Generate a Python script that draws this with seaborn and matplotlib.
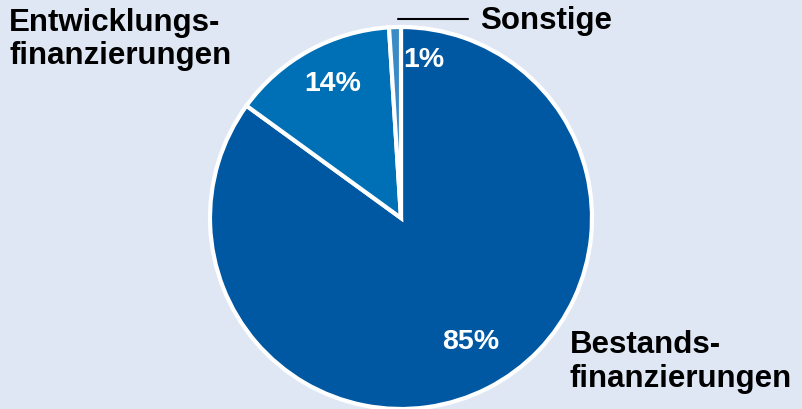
import matplotlib
matplotlib.use("Agg")
import matplotlib.pyplot as plt
import seaborn as sns

labels = [["Bestands-", "finanzierungen"], ["Entwicklungs-", "finanzierungen"], ["Sonstige"]]
shares = [85, 14, 1]
pct_text = ["85%", "14%", "1%"]
colors = ["#0057a2", "#0070b6", "#3a8ac6"]

BG = "#dfe7f5"

sns.set_style("white")
plt.rcParams["font.family"] = ["Liberation Sans", "DejaVu Sans"]

W, H = 802, 409
fig = plt.figure(figsize=(W / 100, H / 100), dpi=100, facecolor=BG)
ax = fig.add_axes([0, 0, 1, 1], facecolor=BG)

cx, cy, r = 401, H - 218, 191
ax.pie(shares, colors=colors, startangle=90, counterclock=False,
       center=(cx, cy), radius=r, frame=True,
       wedgeprops=dict(edgecolor="white", linewidth=3))
ax.set_xlim(0, W)
ax.set_ylim(0, H)
ax.set_aspect("equal")
ax.axis("off")

# percentage labels inside slices (baseline positions, pixels from top)
pct_pos = [(471, 349), (333, 91), (424, 67)]
for t, (x, y) in zip(pct_text, pct_pos):
    ax.text(x, H - y, t, color="white", fontsize=20.5, fontweight="bold",
            ha="center", va="baseline")

# category labels, one text per line
label_pos = [(570, [353, 387]), (9, [31, 64]), (480, [29])]
for lines, (x, ys) in zip(labels, label_pos):
    for line, y in zip(lines, ys):
        ax.text(x, H - y, line, color="black", fontsize=22.5, fontweight="bold",
                ha="left", va="baseline")

ax.plot([398, 468], [H - 19, H - 19], color="black", lw=1.5)

fig.savefig("out.png", dpi=100, facecolor=BG)
